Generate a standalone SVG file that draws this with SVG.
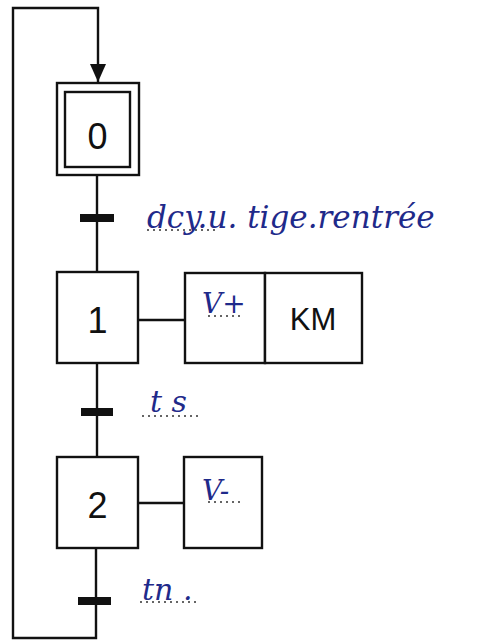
<svg xmlns="http://www.w3.org/2000/svg" width="477" height="641" viewBox="0 0 477 641">
  <style>
    .box { fill: #fff; stroke: #111; stroke-width: 2.4; }
    .wire { fill: none; stroke: #111; stroke-width: 2.4; }
    .bar { fill: #111; }
    .num { font-family: "Liberation Sans", Arial, sans-serif; font-size: 36px; fill: #111; text-anchor: middle; }
    .act { font-family: "Liberation Sans", Arial, sans-serif; font-size: 31px; fill: #111; text-anchor: middle; }
    .hand { font-family: "DejaVu Serif", "Liberation Serif", serif; font-style: italic; fill: #1f2a8a; }
    .dots { fill: none; stroke: #333; stroke-width: 1.6; stroke-dasharray: 2 4; }
  </style>
  <defs>
    <marker id="arrow" viewBox="0 0 18 16" refX="18" refY="8" markerWidth="18" markerHeight="16" markerUnits="userSpaceOnUse" orient="auto">
      <path d="M0,0 L18,8 L0,16 Z" fill="#111"/>
    </marker>
  </defs>
  <rect width="477" height="641" fill="#fff"/>

  <!-- links and transitions -->
  <g id="connectors">
    <!-- loop back from the last transition to the initial step -->
    <path class="wire" d="M96,548 V638 H13 V8 H98 V82" marker-end="url(#arrow)"/>
    <line class="wire" x1="97" y1="175" x2="97" y2="272"/>
    <line class="wire" x1="97" y1="363" x2="97" y2="457"/>
    <line class="wire" x1="138" y1="320" x2="185" y2="320"/>
    <line class="wire" x1="138" y1="503" x2="184" y2="503"/>
    <rect class="bar" x="80" y="214" width="34" height="8"/>
    <rect class="bar" x="81" y="408" width="32" height="8"/>
    <rect class="bar" x="78" y="597" width="33" height="8"/>
  </g>

  <g id="step0">
    <rect class="box" x="57" y="83" width="82" height="92"/>
    <rect class="box" x="65" y="92" width="65" height="75"/>
    <text class="num" x="97.5" y="149">0</text>
  </g>

  <g id="step1">
    <rect class="box" x="57" y="272" width="81" height="91"/>
    <text class="num" x="97.5" y="333">1</text>
  </g>

  <g id="action1">
    <rect class="box" x="185" y="273" width="80" height="90"/>
    <rect class="box" x="265" y="273" width="97" height="90"/>
    <text class="hand" x="202" y="313" font-size="28">V+</text>
    <line class="dots" x1="208" y1="316" x2="242" y2="316"/>
    <text class="act" x="313" y="330">KM</text>
  </g>

  <g id="step2">
    <rect class="box" x="57" y="457" width="81" height="91"/>
    <text class="num" x="97.5" y="518">2</text>
  </g>

  <g id="action2">
    <rect class="box" x="184" y="457" width="78" height="91"/>
    <text class="hand" x="202" y="500" font-size="28">V-</text>
    <line class="dots" x1="208" y1="502" x2="242" y2="502"/>
  </g>

  <g id="receptivities">
    <text class="hand" x="147" y="228" font-size="31">dcy.u. tige.rentrée</text>
    <line class="dots" x1="147" y1="230" x2="215" y2="230"/>
    <text class="hand" x="150" y="412" font-size="30">t s</text>
    <line class="dots" x1="142" y1="416" x2="198" y2="416"/>
    <text class="hand" x="142" y="600" font-size="30">tn .</text>
    <line class="dots" x1="140" y1="602" x2="196" y2="602"/>
  </g>
</svg>
